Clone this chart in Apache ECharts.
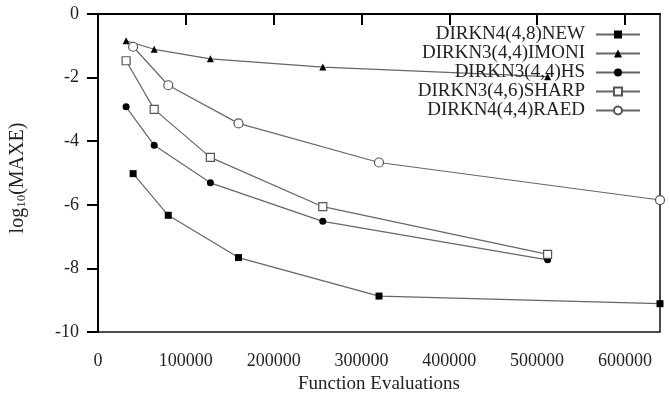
<!DOCTYPE html>
<html>
<head>
<meta charset="utf-8">
<script src="https://cdn.jsdelivr.net/npm/echarts@6/dist/echarts.min.js"></script>
<style>
  html, body { margin: 0; padding: 0; background: #fff; }
  #chart { width: 670px; height: 403px; }
</style>
</head>
<body>
<div id="chart"></div>
<script>
// values
var seriesNames = ['DIRKN4(4,8)NEW', 'DIRKN3(4,4)IMONI', 'DIRKN3(4,4)HS', 'DIRKN3(4,6)SHARP', 'DIRKN4(4,4)RAED'];

var xNew = [40000, 80000, 160000, 320000, 640000];
var yNew = [-5.02, -6.33, -7.66, -8.87, -9.11];

var xImoni = [32000, 64000, 128000, 256000, 512000];
var yImoni = [-0.84, -1.11, -1.41, -1.67, -1.97];

var xHs = [32000, 64000, 128000, 256000, 512000];
var yHs = [-2.92, -4.13, -5.31, -6.52, -7.73];

var xSharp = [32000, 64000, 128000, 256000, 512000];
var ySharp = [-1.47, -3.0, -4.51, -6.06, -7.56];

var xRaed = [40000, 80000, 160000, 320000, 640000];
var yRaed = [-1.03, -2.24, -3.44, -4.67, -5.85];

var xTicks = [0, 100000, 200000, 300000, 400000, 500000, 600000];
var yTicks = [-10, -8, -6, -4, -2, 0];

var font = 'Liberation Serif';
var lineGray = '#666';

function pairs(xs, ys) {
    return xs.map(function (x, i) { return [x, ys[i]]; });
}

function makeSeries(name, xs, ys, symbol, size, filled) {
    return {
        name: name,
        type: 'line',
        data: pairs(xs, ys),
        symbol: symbol,
        symbolSize: size,
        showAllSymbol: true,
        lineStyle: { color: lineGray, width: 1.2 },
        itemStyle: filled
            ? { color: '#000', borderWidth: 0 }
            : { color: '#fff', borderColor: '#555', borderWidth: 1.2 },
        emphasis: { disabled: true },
        z: 3
    };
}

var chart = echarts.init(document.getElementById('chart'), null, { renderer: 'canvas' });

chart.setOption({
    animation: false,
    backgroundColor: '#fff',
    grid: {
        left: 98, right: 10, top: 14, bottom: 71,
        show: true, borderColor: '#111', borderWidth: 1.5,
        containLabel: false
    },
    legend: {
        orient: 'vertical',
        align: 'right',
        right: 24,
        top: 20,
        itemWidth: 44,
        itemHeight: 10,
        itemGap: 0,
        textStyle: {
            fontFamily: font, fontSize: 19, color: '#222',
            lineHeight: 18.5, padding: [0, 6, 0, 0]
        },
        data: seriesNames
    },
    xAxis: {
        type: 'value',
        min: 0,
        max: 640000,
        interval: 100000,
        splitLine: { show: false },
        axisLine: { lineStyle: { color: '#000', width: 2 } },
        axisTick: {
            inside: false, length: 11, customValues: xTicks,
            lineStyle: { color: '#000', width: 2 }
        },
        axisLabel: {
            customValues: xTicks,
            formatter: function (v) { return String(v); },
            fontFamily: font, fontSize: 18, color: '#222', margin: 20
        },
        name: 'Function Evaluations',
        nameLocation: 'middle',
        nameGap: 43,
        nameTextStyle: { fontFamily: font, fontSize: 19, color: '#222' }
    },
    yAxis: {
        type: 'value',
        min: -10,
        max: 0,
        interval: 2,
        splitLine: { show: false },
        axisLine: { lineStyle: { color: '#000', width: 2 } },
        axisTick: {
            inside: false, length: 11, customValues: yTicks,
            lineStyle: { color: '#000', width: 2 }
        },
        axisLabel: {
            customValues: yTicks,
            fontFamily: font, fontSize: 18, color: '#222', margin: 19
        },
        name: '{a|log}{b|10}{a|(MAXE)}',
        nameLocation: 'middle',
        nameGap: 70,
        nameTextStyle: {
            padding: [0, 10, 0, 0],
            rich: {
                a: { fontFamily: font, fontSize: 20, color: '#222' },
                b: { fontFamily: font, fontSize: 13, color: '#222', padding: [7, 0, 0, 0] }
            }
        }
    },
    series: [
        makeSeries(seriesNames[0], xNew, yNew, 'rect', 7, true),
        makeSeries(seriesNames[1], xImoni, yImoni, 'triangle', 7, true),
        makeSeries(seriesNames[2], xHs, yHs, 'circle', 7, true),
        makeSeries(seriesNames[3], xSharp, ySharp, 'rect', 8, false),
        makeSeries(seriesNames[4], xRaed, yRaed, 'circle', 9, false)
    ]
});
</script>
</body>
</html>
